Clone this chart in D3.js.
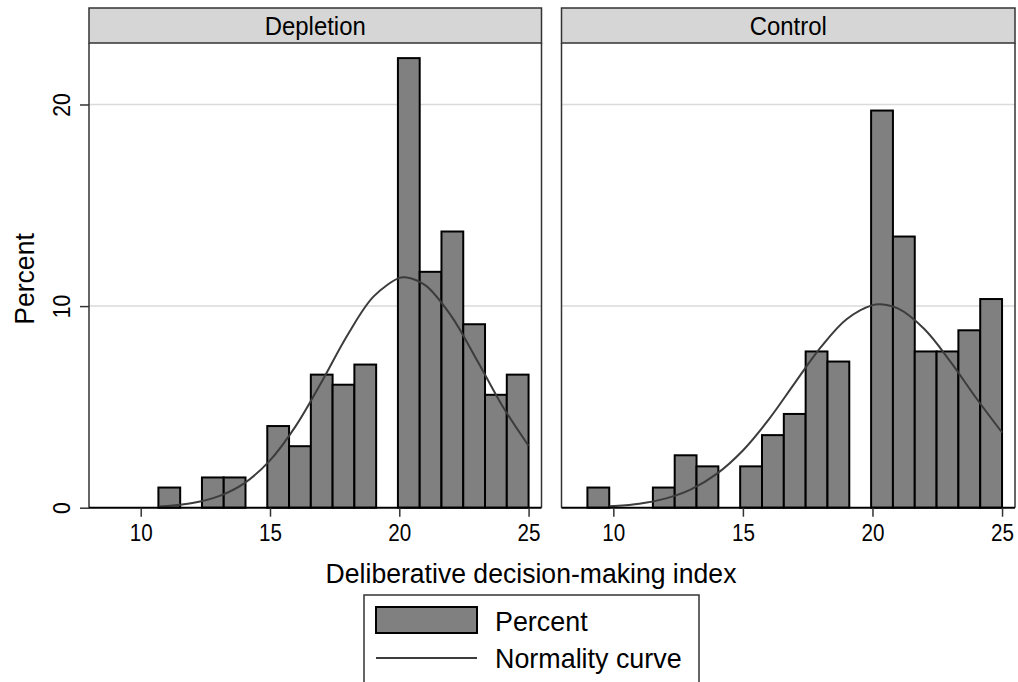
<!DOCTYPE html>
<html>
<head>
<meta charset="utf-8">
<script src="https://cdn.jsdelivr.net/npm/d3@7"></script>
<style>
  body { margin: 0; background: #fff; }
  svg { display: block; font-family: "Liberation Sans", Arial, sans-serif; }
</style>
</head>
<body>
<svg id="chart" width="1018" height="682"></svg>
<script>
// data
const panels = ["Depletion", "Control"];
const binStart = 9, binEnd = 25;
// percent per bin (19 bins from 9 to 25)
const depletionPct = [0, 0, 1.0, 0, 1.5, 1.5, 0, 4.05, 3.05, 6.6, 6.1, 7.1, 0, 22.3, 11.7, 13.7, 9.1, 5.6, 6.6];
const controlPct   = [1.0, 0, 0, 1.0, 2.6, 2.05, 0, 2.05, 3.6, 4.65, 7.75, 7.25, 0, 19.7, 13.45, 7.75, 7.75, 8.8, 10.35];
// normality curve, points
const depletionCurveX = [10.7, 11, 12, 13, 14, 15, 16, 17, 18, 19, 20, 20.23, 21, 22, 23, 24, 25];
const depletionCurveY = [0.06, 0.08, 0.23, 0.56, 1.21, 2.35, 4.06, 6.25, 8.57, 10.47, 11.4, 11.43, 11.04, 9.53, 7.33, 5.02, 3.07];
const controlCurveX = [9.85, 10, 11, 12, 13, 14, 15, 16, 17, 18, 19, 20, 20.3, 21, 22, 23, 24, 25];
const controlCurveY = [0.07, 0.08, 0.2, 0.45, 0.91, 1.69, 2.84, 4.38, 6.18, 7.95, 9.35, 10.05, 10.09, 9.87, 8.86, 7.26, 5.44, 3.73];
const xTicks = [10, 15, 20, 25];
const yTicks = [0, 10, 20];
const legendLabels = ["Percent", "Normality curve"];

const pctByPanel = [depletionPct, controlPct];
const curveByPanel = [
  depletionCurveX.map((x, i) => [x, depletionCurveY[i]]),
  controlCurveX.map((x, i) => [x, controlCurveY[i]])
];

const svg = d3.select("#chart");
const plotTop = 43, plotBottom = 507.7;
const panelX = [[89, 541.5], [561.5, 1015]];
const barFill = "#808080", curveColor = "#3c3c3c";

const y = d3.scaleLinear().domain([0, 23.05]).range([plotBottom, plotTop]);
const binW = (binEnd - binStart) / depletionPct.length;

panels.forEach((name, p) => {
  const x = d3.scaleLinear().domain([8, 25.5]).range(panelX[p]);
  const g = svg.append("g");
  const x0 = panelX[p][0], x1 = panelX[p][1];

  // header strip
  g.append("rect")
    .attr("x", x0).attr("y", 8).attr("width", x1 - x0).attr("height", plotTop - 8)
    .attr("fill", "#d6d6d6").attr("stroke", "#333").attr("stroke-width", 1.5);
  g.append("text")
    .attr("transform", `translate(${(x0 + x1) / 2},34.5) scale(0.92,1)`)
    .attr("text-anchor", "middle").style("font-size", "26px").attr("fill", "#000")
    .text(name);

  // gridlines
  g.selectAll(".grid").data(yTicks.filter(d => d > 0)).enter().append("line")
    .attr("x1", x0).attr("x2", x1)
    .attr("y1", d => y(d)).attr("y2", d => y(d))
    .attr("stroke", "#dadada").attr("stroke-width", 1.5);

  // bars
  g.selectAll(".bar").data(pctByPanel[p]).enter().append("rect")
    .attr("x", (d, i) => x(binStart + i * binW))
    .attr("width", (d, i) => x(binStart + (i + 1) * binW) - x(binStart + i * binW))
    .attr("y", d => y(d))
    .attr("height", d => y(0) - y(d))
    .attr("fill", barFill).attr("stroke", "#000").attr("stroke-width", 2);

  // normality curve
  const line = d3.line().x(d => x(d[0])).y(d => y(d[1])).curve(d3.curveCatmullRom);
  g.append("path").datum(curveByPanel[p])
    .attr("d", line).attr("fill", "none")
    .attr("stroke", curveColor).attr("stroke-width", 2);

  // side borders
  [x0, x1].forEach(bx => {
    g.append("line").attr("x1", bx).attr("x2", bx).attr("y1", plotTop).attr("y2", plotBottom)
      .attr("stroke", "#333").attr("stroke-width", 1.5);
  });

  // x axis
  const ax = g.append("g").attr("transform", `translate(0,${plotBottom})`)
    .call(d3.axisBottom(x).tickValues(xTicks).tickSize(9).tickSizeOuter(0));
  ax.select(".domain").attr("d", `M${x0},0H${x1}`).attr("stroke", "#000").attr("stroke-width", 2);
  ax.selectAll(".tick line").attr("stroke", "#333").attr("stroke-width", 1.5);
  ax.selectAll(".tick text")
    .attr("y", null).attr("dy", null)
    .attr("transform", "translate(0,33) scale(0.86,1)")
    .style("font-size", "24px").attr("fill", "#000")
    .attr("font-family", "Liberation Sans, Arial, sans-serif");

  // y axis only on the first panel
  if (p === 0) {
    const ay = g.append("g").attr("transform", `translate(${x0},0)`)
      .call(d3.axisLeft(y).tickValues(yTicks).tickSize(9).tickSizeOuter(0));
    ay.select(".domain").remove();
    ay.selectAll(".tick line").attr("stroke", "#333").attr("stroke-width", 1.5);
    ay.selectAll(".tick text")
      .attr("x", 0).attr("dy", null).attr("y", 0)
      .attr("transform", "translate(-19.5,0) rotate(-90) scale(0.9,1)")
      .attr("text-anchor", "middle")
      .style("font-size", "23.5px").attr("fill", "#000")
      .attr("font-family", "Liberation Sans, Arial, sans-serif");
  }
});

// axis titles
svg.append("text")
  .attr("transform", "translate(531,583) scale(0.95,1)")
  .attr("text-anchor", "middle").style("font-size", "28px")
  .text("Deliberative decision-making index");
svg.append("text")
  .attr("transform", "translate(34,279) rotate(-90) scale(0.95,1)")
  .attr("text-anchor", "middle").style("font-size", "28px")
  .text("Percent");

// legend
const lg = svg.append("g");
lg.append("rect").attr("x", 364).attr("y", 595).attr("width", 335).attr("height", 120)
  .attr("fill", "#fff").attr("stroke", "#333").attr("stroke-width", 1.5);
lg.append("rect").attr("x", 376).attr("y", 607).attr("width", 101).attr("height", 26)
  .attr("fill", barFill).attr("stroke", "#000").attr("stroke-width", 2);
lg.append("line").attr("x1", 376).attr("x2", 477).attr("y1", 658).attr("y2", 658)
  .attr("stroke", curveColor).attr("stroke-width", 2);
lg.selectAll(".lt").data(legendLabels).enter().append("text")
  .attr("transform", (d, i) => `translate(495,${631 + i * 36.5}) scale(0.96,1)`)
  .style("font-size", "28px").text(d => d);
</script>
</body>
</html>
